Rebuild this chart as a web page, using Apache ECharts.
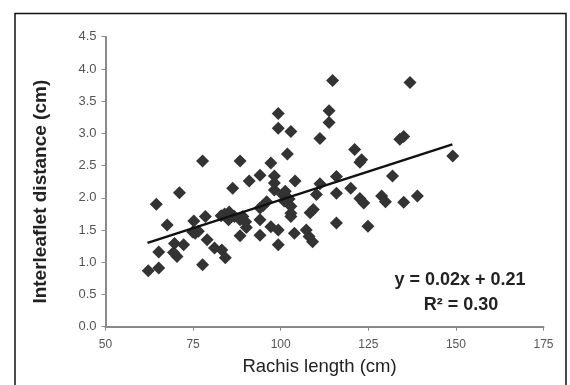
<!DOCTYPE html>
<html>
<head>
<meta charset="utf-8">
<script src="https://cdn.jsdelivr.net/npm/echarts@6/dist/echarts.min.js"></script>
<style>html,body{margin:0;padding:0;background:#fff}#c{width:570px;height:385px}</style>
</head>
<body>
<div id="c"></div>
<script>
// Rachis length (cm)
var rachis = [62.2,64.5,65.2,65.2,67.6,71.1,69.7,69.4,70.4,72.3,75.2,75.6,74.9,76.5,77.7,78.5,79.0,77.7,81.1,83.2,84.2,86.3,84.0,85.3,85.1,86.8,88.4,88.4,89.2,90.0,90.2,88.4,91.0,94.1,94.1,94.1,94.1,96.0,97.2,98.2,98.2,98.2,97.2,99.3,99.3,99.3,99.3,101.9,102.9,101.3,102.4,102.9,102.9,102.9,104.1,103.9,107.3,108.1,109.1,108.4,109.3,110.2,111.2,111.2,113.8,113.8,114.8,115.9,115.9,115.9,120.0,121.1,122.6,123.1,122.6,123.7,124.9,128.8,129.9,131.9,134.0,135.1,135.1,136.9,139.0,149.1,100.5,101.0,83.0,95.0];
// Interleaflet distance (cm)
var distance = [0.87,1.90,0.91,1.16,1.58,2.08,1.29,1.15,1.09,1.27,1.64,1.45,1.47,1.48,2.57,1.71,1.35,0.96,1.22,1.19,1.07,2.15,1.75,1.78,1.66,1.71,2.57,1.66,1.71,1.63,1.54,1.41,2.26,2.35,1.84,1.66,1.42,1.94,2.54,2.34,2.23,2.12,1.55,1.50,3.31,3.08,1.27,2.68,3.03,2.10,1.98,1.87,1.76,1.71,2.26,1.45,1.50,1.40,1.32,1.77,1.82,2.05,2.22,2.92,3.35,3.17,3.82,2.33,2.07,1.61,2.15,2.75,2.55,2.59,1.99,1.92,1.56,2.03,1.94,2.34,2.91,2.95,1.93,3.79,2.03,2.65,2.05,1.95,1.72,1.88];
// Trend line endpoints (x, y)
var trendX = [62, 149];
var trendY = [1.30, 2.83];
var xTicks = [50, 75, 100, 125, 150, 175];
var yTicks = [0.0, 0.5, 1.0, 1.5, 2.0, 2.5, 3.0, 3.5, 4.0, 4.5];
var equationText = ['y = 0.02x + 0.21', 'R\u00b2 = 0.30'];

var pts = rachis.map(function(x, i){ return [x, distance[i]]; });
var trend = trendX.map(function(x, i){ return [x, trendY[i]]; });

var chart = echarts.init(document.getElementById('c'), null, {renderer:'canvas'});
var axisGray = '#8a8a8a';
var labelCol = '#555';
chart.setOption({
  animation: false,
  backgroundColor: '#fff',
  grid: {left: 105.5, right: 26.5, top: 36.7, bottom: 58.3, containLabel: false},
  xAxis: {
    type: 'value', min: xTicks[0], max: xTicks[xTicks.length-1], interval: 25,
    axisLine: {lineStyle: {color: axisGray, width: 2}},
    axisTick: {show: true, inside: false, length: 4, lineStyle: {color: axisGray}},
    axisLabel: {color: labelCol, fontFamily: 'Liberation Sans, Arial', fontSize: 12, margin: 12},
    splitLine: {show: false},
    name: 'Rachis length (cm)', nameLocation: 'middle', nameGap: 31,
    nameTextStyle: {color: '#222', fontFamily: 'Liberation Sans, Arial', fontSize: 18.5, padding: [0, 10, 0, 0]}
  },
  yAxis: {
    type: 'value', min: yTicks[0], max: yTicks[yTicks.length-1], interval: 0.5,
    axisLine: {show: true, lineStyle: {color: axisGray, width: 2}},
    axisTick: {show: true, inside: false, length: 4, lineStyle: {color: axisGray}},
    axisLabel: {color: labelCol, fontFamily: 'Liberation Sans, Arial', fontSize: 13, margin: 9,
      formatter: function(v){ return v.toFixed(1); }},
    splitLine: {show: false},
    name: 'Interleaflet distance (cm)', nameLocation: 'middle', nameGap: 55, nameRotate: 90,
    nameTextStyle: {color: '#222', fontFamily: 'Liberation Sans, Arial', fontSize: 19, fontWeight: 'bold', padding: [0, 20, 0, 0]}
  },
  series: [
    {type: 'scatter', data: pts, symbol: 'diamond', symbolSize: 13,
     itemStyle: {color: '#333333', opacity: 1}, z: 2},
    {type: 'line', data: trend, symbol: 'none', lineStyle: {color: '#111', width: 2.5}, z: 3}
  ],
  graphic: [
    {type: 'rect', shape: {x: 15, y: 13.5, width: 551, height: 380},
     style: {fill: 'none', stroke: '#111', lineWidth: 1.5}, silent: true},
    {type: 'text', x: 460, y: 280, style: {text: equationText[0], textAlign: 'center', textVerticalAlign: 'middle',
      font: 'bold 18px "Liberation Sans", Arial', fill: '#222'}},
    {type: 'text', x: 461, y: 305, style: {text: equationText[1], textAlign: 'center', textVerticalAlign: 'middle',
      font: 'bold 18px "Liberation Sans", Arial', fill: '#222'}}
  ]
});
</script>
</body>
</html>
